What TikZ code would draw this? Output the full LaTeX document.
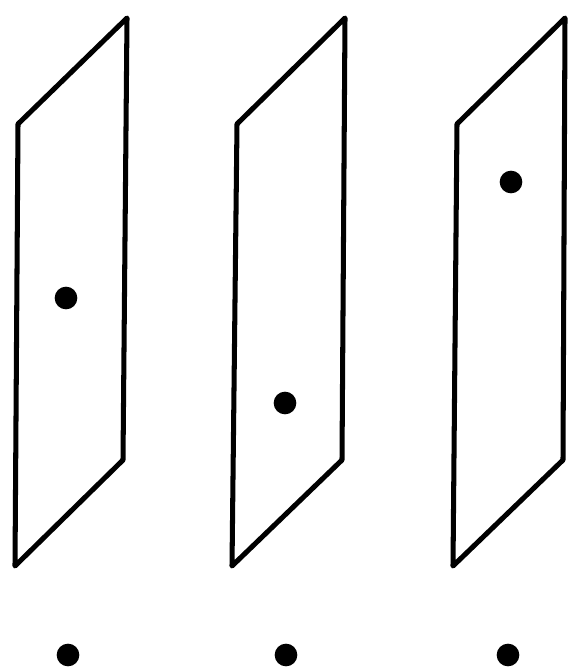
\documentclass[tikz,border=0pt]{standalone}
\usetikzlibrary{positioning}
\begin{document}
\begin{tikzpicture}[x=0.03cm, y=-0.03cm,
    plane/.style={draw=black, line width=4.3pt, line join=round},
    spot/.style={circle, fill=black, inner sep=0pt, minimum size=0.68cm}]
\useasboundingbox (0,0) rectangle (569,668);
% three slanted planes, each with one point, and the points below
\foreach \p/\tl/\tr/\br/\bl/\dx/\dy/\bx in {1/18/127/123/15/66/298/68,
                                           2/237/345/342/232/285/403/286,
                                           3/457/565/563/453/511/182/508} {
    \draw[plane] (\tl,124) -- (\tr,18) -- (\br,460) -- (\bl,566) -- cycle;
    \node[spot] (d\p) at (\dx,\dy) {};
    \node[spot] (b\p) at (\bx,655) {};
}
\end{tikzpicture}
\end{document}
